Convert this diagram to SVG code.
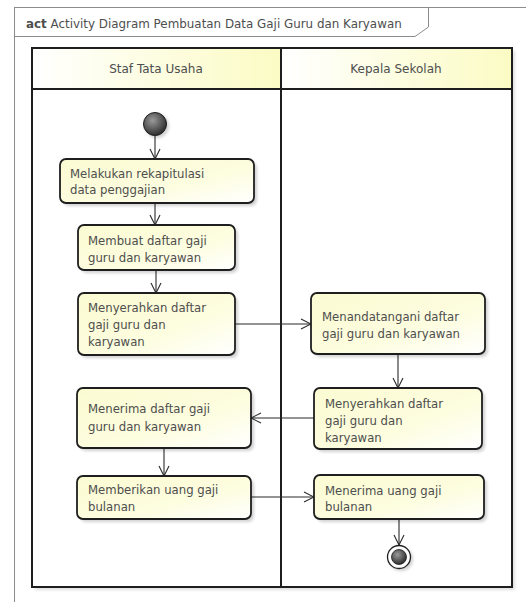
<svg xmlns="http://www.w3.org/2000/svg" width="526" height="602" viewBox="0 0 526 602">
<defs>
<style>
.frame{fill:#fff;stroke:#8c8c8c;stroke-width:1}
.lane{fill:#fff;stroke:#1e1e1e;stroke-width:2}
.hdr{fill:url(#hg);stroke:#1e1e1e;stroke-width:2}
.node{fill:url(#ng);stroke:#1e1e1e;stroke-width:1.8}
.shd{fill:#000;opacity:0.18;filter:url(#blur)}
.t{font-family:"DejaVu Sans","Liberation Sans",sans-serif;font-size:11.7px;fill:#4e4e4e}
.h{font-family:"DejaVu Sans","Liberation Sans",sans-serif;font-size:12px;fill:#4e4e4e;text-anchor:middle}
.ttl{font-family:"DejaVu Sans","Liberation Sans",sans-serif;font-size:11.9px;fill:#4e4e4e}
.c{fill:none;stroke:#2a2a2a;stroke-width:1.1;marker-end:url(#arr)}
</style>
<linearGradient id="hg" x1="0" y1="0" x2="1" y2="0">
<stop offset="0" stop-color="#ffffff"/>
<stop offset="1" stop-color="#fbfbc4"/>
</linearGradient>
<linearGradient id="ng" x1="0" y1="0" x2="1" y2="1">
<stop offset="0" stop-color="#fbfbd2"/>
<stop offset="0.6" stop-color="#fdfde0"/>
<stop offset="1" stop-color="#ffffff"/>
</linearGradient>
<radialGradient id="ig" cx="0.4" cy="0.35" r="0.7">
<stop offset="0" stop-color="#9a9a9a"/>
<stop offset="1" stop-color="#262626"/>
</radialGradient>
<filter id="blur" x="-20%" y="-20%" width="140%" height="140%">
<feGaussianBlur stdDeviation="1.5"/>
</filter>
<marker id="arr" viewBox="0 0 12 12" refX="11" refY="6" markerWidth="12" markerHeight="12" markerUnits="userSpaceOnUse" orient="auto">
<path d="M1,1 L11,6 L1,11" fill="none" stroke="#2a2a2a" stroke-width="1.1"/>
</marker>
</defs>
<rect width="526" height="602" fill="#fff"/>
<g id="frame">
<rect class="frame" x="14.5" y="7.5" width="520" height="610"/>
<path d="M14.5,36.5 L415,36.5 L428.5,27 L428.5,7.5" fill="none" stroke="#8c8c8c" stroke-width="1"/>
<text class="ttl" x="26" y="28"><tspan font-weight="bold">act</tspan> Activity Diagram Pembuatan Data Gaji Guru dan Karyawan</text>
</g>
<g id="lanes">
<rect x="35" y="51" width="480" height="539" fill="#000" opacity="0.12" filter="url(#blur)"/>
<rect class="lane" x="32" y="48" width="480" height="539"/>
<rect class="hdr" x="32" y="48" width="249" height="41"/>
<rect class="hdr" x="281" y="48" width="231" height="41"/>
<line x1="281" y1="89" x2="281" y2="587" stroke="#1e1e1e" stroke-width="2"/>
<text class="h" x="156" y="73">Staf Tata Usaha</text>
<text class="h" x="396" y="73">Kepala Sekolah</text>
</g>
<g id="connectors">
<line class="c" x1="155" y1="136" x2="155" y2="159"/>
<line class="c" x1="155" y1="203" x2="155" y2="225"/>
<line class="c" x1="156" y1="270" x2="156" y2="293"/>
<line class="c" x1="235" y1="324" x2="311" y2="324"/>
<line class="c" x1="398" y1="354" x2="398" y2="388"/>
<line class="c" x1="314" y1="418" x2="251" y2="418"/>
<line class="c" x1="164" y1="448" x2="164" y2="476"/>
<line class="c" x1="251" y1="497" x2="314" y2="497"/>
<line class="c" x1="399" y1="519" x2="399" y2="545"/>
</g>
<g id="start">
<circle cx="157" cy="126" r="12" fill="#000" opacity="0.18" filter="url(#blur)"/>
<circle cx="155" cy="124" r="11.5" fill="url(#ig)" stroke="#1e1e1e" stroke-width="1"/>
</g>
<g id="n1">
<rect class="shd" x="63" y="162" width="194" height="44" rx="6"/>
<rect class="node" x="60" y="159" width="194" height="44" rx="6"/>
<text class="t" x="70" y="178">Melakukan rekapitulasi</text>
<text class="t" x="70" y="194">data penggajian</text>
</g>
<g id="n2">
<rect class="shd" x="81" y="228" width="157" height="45" rx="6"/>
<rect class="node" x="78" y="225" width="157" height="45" rx="6"/>
<text class="t" x="88" y="245">Membuat daftar gaji</text>
<text class="t" x="88" y="262">guru dan karyawan</text>
</g>
<g id="n3">
<rect class="shd" x="81" y="296" width="157" height="62" rx="6"/>
<rect class="node" x="78" y="293" width="157" height="62" rx="6"/>
<text class="t" x="88" y="312">Menyerahkan daftar</text>
<text class="t" x="88" y="329">gaji guru dan</text>
<text class="t" x="88" y="346">karyawan</text>
</g>
<g id="n4">
<rect class="shd" x="314" y="296" width="174" height="61" rx="6"/>
<rect class="node" x="311" y="293" width="174" height="61" rx="6"/>
<text class="t" x="322" y="321">Menandatangani daftar</text>
<text class="t" x="322" y="338">gaji guru dan karyawan</text>
</g>
<g id="n5">
<rect class="shd" x="317" y="391" width="168" height="61" rx="6"/>
<rect class="node" x="314" y="388" width="168" height="61" rx="6"/>
<text class="t" x="325" y="408">Menyerahkan daftar</text>
<text class="t" x="325" y="425">gaji guru dan</text>
<text class="t" x="325" y="442">karyawan</text>
</g>
<g id="n6">
<rect class="shd" x="80" y="391" width="174" height="60" rx="6"/>
<rect class="node" x="77" y="388" width="174" height="60" rx="6"/>
<text class="t" x="88" y="413">Menerima daftar gaji</text>
<text class="t" x="88" y="431">guru dan karyawan</text>
</g>
<g id="n7">
<rect class="shd" x="80" y="479" width="174" height="43" rx="6"/>
<rect class="node" x="77" y="476" width="174" height="43" rx="6"/>
<text class="t" x="88" y="494">Memberikan uang gaji</text>
<text class="t" x="88" y="511">bulanan</text>
</g>
<g id="n8">
<rect class="shd" x="317" y="478" width="170" height="44" rx="6"/>
<rect class="node" x="314" y="475" width="170" height="44" rx="6"/>
<text class="t" x="325" y="495">Menerima uang gaji</text>
<text class="t" x="325" y="511">bulanan</text>
</g>
<g id="end">
<circle cx="401" cy="559" r="12" fill="#000" opacity="0.18" filter="url(#blur)"/>
<circle cx="399" cy="557" r="11.5" fill="#fff" stroke="#1e1e1e" stroke-width="1.3"/>
<circle cx="399" cy="557" r="7.5" fill="url(#ig)" stroke="#1e1e1e" stroke-width="0.8"/>
</g>
</svg>
